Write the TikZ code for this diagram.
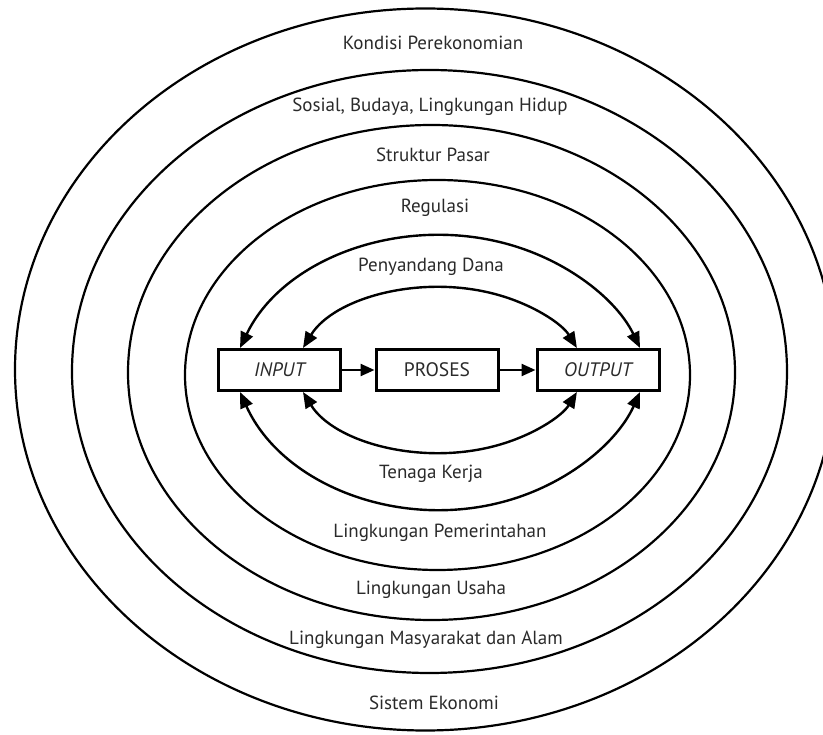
\documentclass[tikz,border=0pt]{standalone}
\usepackage{fontspec}
\setmainfont{PT Sans}
\usetikzlibrary{arrows.meta}
\definecolor{txt}{HTML}{2A2A2A}
\begin{document}
\begin{tikzpicture}[x=1pt,y=1pt,
  ring/.style={line width=2.2pt, black},
  flow/.style={line width=2.4pt, {Triangle[length=16pt,width=13pt]}-{Triangle[length=16pt,width=13pt]}},
  harrow/.style={line width=2.4pt, -{Triangle[length=14pt,width=12pt]}},
  procbox/.style={draw, line width=3pt, minimum width=122pt, minimum height=41pt, inner sep=0pt, font=\fontsize{19.5}{22}\selectfont, text=txt},
  lbl/.style={font=\fontsize{19}{22}\selectfont, text=txt, inner sep=0pt}
]
\useasboundingbox (0,0) rectangle (823,-735);
\fill[white] (0,0) rectangle (823,-735);
\clip (0,0) rectangle (823,-735);

% concentric rings
\draw[ring] (425.3,-369.5) ellipse [x radius=410.3, y radius=361];
\draw[ring] (429.5,-371.5) ellipse [x radius=357.5, y radius=301.5];
\draw[ring] (431.5,-372.5) ellipse [x radius=303.5, y radius=247.5];
\draw[ring] (437.5,-375) ellipse [x radius=252.5, y radius=195];

% boxes
\node[procbox] (input) at (279.5,-370) {\itshape INPUT};
\node[procbox] (proses) at (437,-370) {PROSES};
\node[procbox] (output) at (598,-370) {\itshape OUTPUT};

\draw[harrow] (input.east) -- (proses.west);
\draw[harrow] (proses.east) -- (output.west);

% double-headed arcs
\draw[flow] ([xshift=23pt]input.north west) arc[start angle=158.15, end angle=21.85, x radius=215.5, y radius=180];
\draw[flow] ([xshift=23pt]input.south west) arc[start angle=201.23, end angle=338.77, x radius=214.6, y radius=185];
\draw[flow] ([xshift=86pt]input.north west) arc[start angle=157.82, end angle=22.18, x radius=147.9, y radius=98];
\draw[flow] ([xshift=86pt]input.south west) arc[start angle=202.18, end angle=337.82, x radius=147.9, y radius=98];

% labels
\node[lbl] (l1) at (433,-43) {Kondisi Perekonomian};
\node[lbl] (l2) at (430,-107) {Sosial, Budaya, Lingkungan Hidup};
\node[lbl] (l3) at (433,-155) {Struktur Pasar};
\node[lbl] (l4) at (435,-208) {Regulasi};
\node[lbl] (l5) at (431,-267) {Penyandang Dana};
\node[lbl] (l6) at (431,-474) {Tenaga Kerja};
\node[lbl] (l7) at (440,-533) {Lingkungan Pemerintahan};
\node[lbl] (l8) at (431,-590) {Lingkungan Usaha};
\node[lbl] (l9) at (426,-640) {Lingkungan Masyarakat dan Alam};
\node[lbl] (l10) at (434,-703) {Sistem Ekonomi};
\end{tikzpicture}
\end{document}
